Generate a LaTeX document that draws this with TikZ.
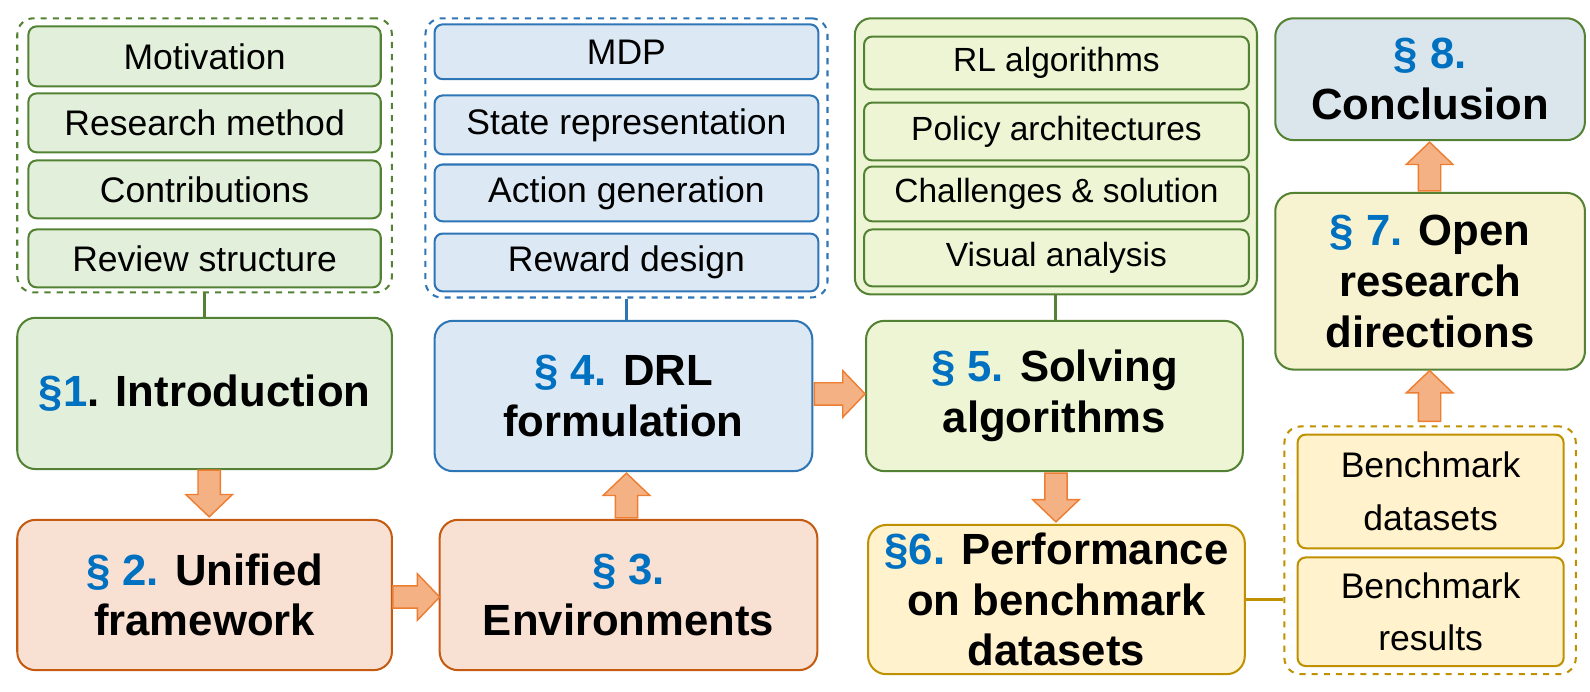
\documentclass[tikz,border=0pt]{standalone}
\usepackage{fontspec}
\setmainfont{Liberation Sans}
\definecolor{gF}{HTML}{E2EFDA}\definecolor{gB}{HTML}{548235}
\definecolor{oF}{HTML}{F8E0D3}\definecolor{oB}{HTML}{C55A11}
\definecolor{bF}{HTML}{DCE9F5}\definecolor{bB}{HTML}{2E75B6}
\definecolor{lF}{HTML}{EEF5D4}
\definecolor{yF}{HTML}{FFF2CC}\definecolor{yB}{HTML}{BF9000}
\definecolor{sF}{HTML}{F7F2D0}
\definecolor{cF}{HTML}{DAE6EC}
\definecolor{aF}{HTML}{F4B183}\definecolor{aB}{HTML}{ED7D31}
\definecolor{num}{HTML}{0070C0}
\newcommand\bx[7]{\node[#6, minimum width={(#4-#2)*0.5pt}, minimum height={(#5-#3)*0.5pt}] (#1) at ({(#2+#4)/2},{(#3+#5)/2}) {#7};}
\newcommand\sn[1]{\textcolor{num}{#1}}
% block arrow: center x, center y, rotation, length
\newcommand\barw[4]{\draw[arr, shift={(#1,#2)}, rotate=#3] ({-#4/2},-11) -- ({#4/2-22},-11) -- ({#4/2-22},-23) -- ({#4/2},0) -- ({#4/2-22},23) -- ({#4/2-22},11) -- ({-#4/2},11) -- cycle;}
\tikzset{
 box/.style={draw, rounded corners=8pt, line width=1pt, inner sep=0pt, align=center},
 sub/.style={box, rounded corners=4pt, font=\fontsize{17.5}{20}\selectfont},
 big/.style={box, rounded corners=9pt, font=\bfseries\fontsize{21.5}{25}\selectfont},
 grp/.style={draw, rounded corners=8pt, line width=1pt, dashed, inner sep=0pt},
 arr/.style={draw=aB, fill=aF, line width=0.7pt},
 ln/.style={line width=1.5pt}
}
\begin{document}
\begin{tikzpicture}[x=0.5pt,y=-0.5pt]
\useasboundingbox (0,0) rectangle (1566,681);
\bx{g1}{17}{18}{386}{288}{grp,draw=gB}{}
\bx{m1}{28}{26}{375}{85}{sub,draw=gB,fill=gF}{Motivation}
\bx{m2}{28}{92}{375}{150}{sub,draw=gB,fill=gF}{Research method}
\bx{m3}{28}{158}{375}{215}{sub,draw=gB,fill=gF}{Contributions}
\bx{m4}{28}{226}{375}{283}{sub,draw=gB,fill=gF}{Review structure}
\bx{intro}{17}{313}{386}{462}{big,draw=gB,fill=gF}{\sn{\S1}. Introduction}
\bx{uni}{17}{512}{386}{660}{big,draw=oB,fill=oF}{\sn{\S\ 2.} Unified\\framework}
\bx{env}{433}{512}{805}{660}{big,draw=oB,fill=oF}{\sn{\S\ 3.}\\Environments}
\bx{g4}{419}{18}{815}{293}{grp,draw=bB}{}
\bx{d1}{428}{24}{806}{78}{sub,draw=bB,fill=bF}{MDP}
\bx{d2}{428}{94}{806}{152}{sub,draw=bB,fill=bF}{State representation}
\bx{d3}{428}{162}{806}{218}{sub,draw=bB,fill=bF}{Action generation}
\bx{d4}{428}{230}{806}{287}{sub,draw=bB,fill=bF}{Reward design}
\bx{drl}{428}{316}{800}{464}{big,draw=bB,fill=bF}{\sn{\S\ 4.} DRL\\formulation}
\bx{g5}{842}{18}{1238}{290}{box,draw=gB,fill=lF}{}
\bx{s1}{851}{36}{1230}{88}{sub,draw=gB,fill=lF,font=\fontsize{16.5}{19}\selectfont}{RL algorithms}
\bx{s2}{851}{101}{1230}{158}{sub,draw=gB,fill=lF,font=\fontsize{16.5}{19}\selectfont}{Policy architectures}
\bx{s3}{851}{164}{1230}{218}{sub,draw=gB,fill=lF,font=\fontsize{16.5}{19}\selectfont}{Challenges \& solution}
\bx{s4}{851}{226}{1230}{282}{sub,draw=gB,fill=lF,font=\fontsize{16.5}{19}\selectfont}{Visual analysis}
\bx{sol}{853}{316}{1224}{464}{big,draw=gB,fill=lF}{\sn{\S\ 5.} Solving\\algorithms}
\bx{perf}{855}{517}{1226}{664}{big,draw=yB,fill=yF}{\sn{\S6.} Performance\\on benchmark\\datasets}
\bx{g6}{1265}{420}{1552}{664}{grp,draw=yB}{}
\bx{b1}{1278}{428}{1540}{540}{sub,draw=yB,fill=yF}{Benchmark\\[6pt]datasets}
\bx{b2}{1278}{549}{1540}{656}{sub,draw=yB,fill=yF}{Benchmark\\[6pt]results}
\bx{open}{1256}{190}{1561}{364}{big,draw=gB,fill=sF}{\sn{\S\ 7.} Open\\research\\directions}
\bx{conc}{1256}{18}{1561}{138}{big,draw=gB,fill=cF}{\sn{\S\ 8.}\\Conclusion}
\draw[ln,gB] (g1.south) -- (g1.south |- intro.north);
\draw[ln,bB] (g4.south) -- (g4.south |- drl.north);
\draw[ln,gB] (g5.south) -- (g5.south |- sol.north);
\draw[ln,yB] (perf.east) -- (perf.east -| g6.west);
\barw{206}{486}{-90}{46}
\barw{410}{588}{0}{46}
\barw{617}{488}{90}{44}
\barw{827}{388}{0}{50}
\barw{1040}{490}{-90}{48}
\barw{1408}{390}{90}{50}
\barw{1408}{164}{90}{48}
\end{tikzpicture}
\end{document}
